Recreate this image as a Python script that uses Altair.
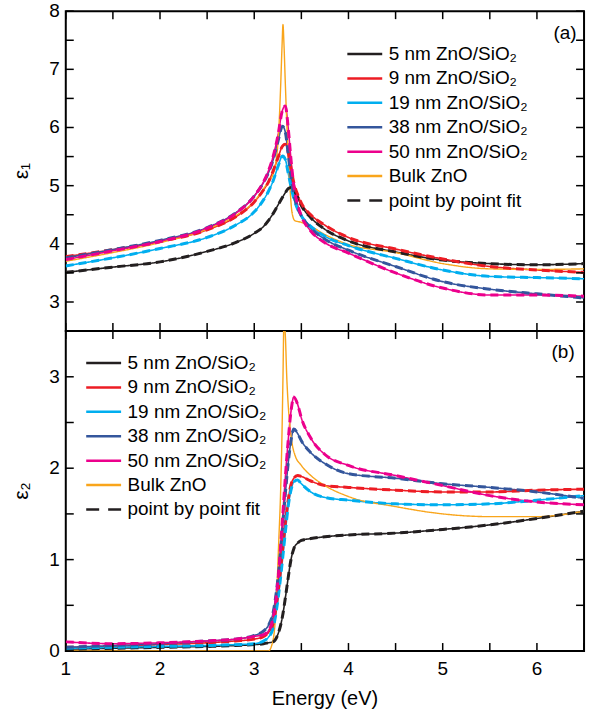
import altair as alt
import pandas as pd

FONT = "Liberation Sans"

# ---------------- data ----------------
energy = [1.0, 1.5, 2.0, 2.5, 2.8, 3.0, 3.1, 3.15, 3.2, 3.25, 3.3, 3.33, 3.36,
          3.39, 3.42, 3.46, 3.5, 3.6, 3.75, 4.0, 4.5, 5.0, 5.5, 6.0, 6.5]
energy_bulk = [1.0, 1.5, 2.0, 2.5, 2.8, 3.0, 3.1, 3.15, 3.2, 3.23, 3.26, 3.28,
               3.295, 3.305, 3.315, 3.33, 3.345, 3.36, 3.38, 3.4, 3.43, 3.5,
               3.6, 3.75, 4.0, 4.5, 5.0, 5.5, 6.0, 6.5]

# epsilon_1
e1_5nm = [3.51, 3.60, 3.69, 3.87, 4.02, 4.18, 4.30, 4.40, 4.52, 4.66, 4.80, 4.88, 4.95,
          4.97, 4.92, 4.80, 4.66, 4.45, 4.25, 4.05, 3.86, 3.72, 3.66, 3.64, 3.66]
e1_9nm = [3.78, 3.90, 4.04, 4.24, 4.46, 4.72, 4.93, 5.06, 5.25, 5.47, 5.68, 5.71, 5.58,
          5.30, 5.05, 4.85, 4.70, 4.50, 4.32, 4.11, 3.91, 3.74, 3.61, 3.55, 3.51]
e1_19nm = [3.62, 3.76, 3.92, 4.11, 4.32, 4.55, 4.76, 4.90, 5.08, 5.32, 5.51, 5.45, 5.22,
           4.98, 4.78, 4.60, 4.48, 4.30, 4.13, 3.97, 3.75, 3.55, 3.44, 3.42, 3.40]
e1_38nm = [3.76, 3.90, 4.06, 4.28, 4.53, 4.82, 5.06, 5.22, 5.44, 5.75, 6.02, 5.92, 5.55,
           5.15, 4.85, 4.62, 4.48, 4.27, 4.08, 3.89, 3.61, 3.35, 3.22, 3.14, 3.07]
e1_50nm = [3.73, 3.88, 4.04, 4.27, 4.52, 4.82, 5.07, 5.25, 5.50, 5.85, 6.30, 6.37, 6.00,
           5.45, 5.00, 4.68, 4.48, 4.22, 4.02, 3.84, 3.50, 3.24, 3.12, 3.12, 3.10]
e1_bulk = [3.70, 3.85, 4.02, 4.25, 4.48, 4.73, 4.95, 5.07, 5.20, 5.40, 5.95, 6.70,
           7.40, 7.77, 7.45, 6.75, 6.10, 5.55, 4.95, 4.55, 4.40, 4.37,
           4.30, 4.16, 3.99, 3.85, 3.66, 3.57, 3.56, 3.57]

# epsilon_2
e2_5nm = [0.02, 0.03, 0.04, 0.05, 0.06, 0.07, 0.08, 0.09, 0.10, 0.18, 0.38, 0.58, 0.80,
          1.00, 1.12, 1.18, 1.21, 1.23, 1.25, 1.27, 1.29, 1.33, 1.38, 1.45, 1.53]
e2_9nm = [0.04, 0.05, 0.07, 0.09, 0.11, 0.13, 0.16, 0.20, 0.30, 0.62, 1.10, 1.40, 1.65,
          1.82, 1.89, 1.92, 1.91, 1.86, 1.81, 1.79, 1.76, 1.74, 1.74, 1.76, 1.77]
e2_19nm = [0.03, 0.04, 0.05, 0.06, 0.07, 0.08, 0.11, 0.15, 0.25, 0.55, 1.00, 1.30, 1.58,
           1.76, 1.85, 1.87, 1.83, 1.74, 1.68, 1.65, 1.61, 1.60, 1.61, 1.65, 1.70]
e2_38nm = [0.04, 0.06, 0.08, 0.11, 0.13, 0.17, 0.22, 0.28, 0.42, 0.78, 1.35, 1.72, 2.05,
           2.30, 2.43, 2.38, 2.30, 2.17, 2.05, 1.94, 1.89, 1.83, 1.79, 1.74, 1.67]
e2_50nm = [0.10, 0.08, 0.09, 0.11, 0.13, 0.16, 0.18, 0.22, 0.36, 0.75, 1.45, 1.90, 2.30,
           2.62, 2.78, 2.70, 2.55, 2.33, 2.15, 2.03, 1.92, 1.81, 1.70, 1.63, 1.60]
e2_bulk = [0.0, 0.0, 0.0, 0.0, 0.0, 0.0, 0.0, 0.0, 0.12, 0.45, 1.20, 1.75,
           2.40, 3.00, 3.60, 3.45, 3.00, 2.70, 2.45, 2.28, 2.15, 2.03,
           1.92, 1.81, 1.69, 1.58, 1.50, 1.47, 1.47, 1.53]

labels = ["5 nm ZnO/SiO\u2082", "9 nm ZnO/SiO\u2082", "19 nm ZnO/SiO\u2082",
          "38 nm ZnO/SiO\u2082", "50 nm ZnO/SiO\u2082", "Bulk ZnO", "point by point fit"]
colors = ["#231f20", "#ed1c24", "#00aeef", "#34569c", "#ec008c", "#f9a51b", "#231f20"]
dashes = [[1, 0], [1, 0], [1, 0], [1, 0], [1, 0], [1, 0], [13, 9]]

# ticks (every 0.5) and tick labels (integers)
x_ticks = [1.0, 1.5, 2.0, 2.5, 3.0, 3.5, 4.0, 4.5, 5.0, 5.5, 6.0, 6.5]
y1_ticks = [2.5, 3.0, 3.5, 4.0, 4.5, 5.0, 5.5, 6.0, 6.5, 7.0, 7.5, 8.0]
y2_ticks = [0.0, 0.5, 1.0, 1.5, 2.0, 2.5, 3.0, 3.5]
x_labels = [1, 2, 3, 4, 5, 6]
y1_labels = [3, 4, 5, 6, 7, 8]
y2_labels = [0, 1, 2, 3]
x_title = "Energy (eV)"

XDOM = [1, 6.5]
W, H, TL = 520, 321, 8   # panel size and tick length (px)


def frames(film_lists, bulk_list):
    film, bulk = [], []
    for lab, vals in zip(labels[:5], film_lists):
        for e, v in zip(energy, vals):
            film.append({"E": e, "eps": v, "series": lab})
    for e, v in zip(energy_bulk, bulk_list):
        bulk.append({"E": e, "eps": v, "series": labels[5]})
    return pd.DataFrame(film), pd.DataFrame(bulk)


def tick_segments(ydom, yticks):
    """Short inward segments at every tick value on all four frame sides."""
    dy = TL * (ydom[1] - ydom[0]) / H
    dx = TL * (XDOM[1] - XDOM[0]) / W
    rows, k = [], 0
    for t in x_ticks:
        for a, b in [(ydom[1], ydom[1] - dy), (ydom[0], ydom[0] + dy)]:
            rows += [{"E": t, "eps": a, "k": k}, {"E": t, "eps": b, "k": k}]
            k += 1
    for t in yticks:
        for a, b in [(XDOM[0], XDOM[0] + dx), (XDOM[1], XDOM[1] - dx)]:
            rows += [{"E": a, "eps": t, "k": k}, {"E": b, "eps": t, "k": k}]
            k += 1
    return pd.DataFrame(rows)


def text_mark(**kw):
    base = dict(font=FONT, fontSize=19, color="black")
    base.update(kw)
    return base


def panel(film_lists, bulk_list, ydomain, yticks, ylabels, ytitle, tag, lx, ly,
          tag_xy, bottom):
    df_film, df_bulk = frames(film_lists, bulk_list)
    xscale = alt.Scale(domain=XDOM, nice=False, zero=False)
    yscale = alt.Scale(domain=ydomain, nice=False, zero=False)
    cscale = alt.Scale(domain=labels, range=colors)
    dscale = alt.Scale(domain=labels, range=dashes)
    leg = alt.Legend(title=None, orient="none", legendX=lx, legendY=ly,
                     symbolType="stroke", symbolSize=1225, symbolStrokeWidth=2.5,
                     clipHeight=18, labelFont=FONT, labelFontSize=19,
                     labelColor="black", labelOffset=5, rowPadding=5.5, padding=0,
                     labelLimit=400)

    def X(field="E"):
        return alt.X(f"{field}:Q", scale=xscale, axis=None)

    def Y(field="eps"):
        return alt.Y(f"{field}:Q", scale=yscale, axis=None)

    film = alt.Chart(df_film).mark_line(clip=True, interpolate="monotone",
                                        strokeWidth=1.6).encode(
        x=X(), y=Y(),
        color=alt.Color("series:N", scale=cscale, legend=leg),
        strokeDash=alt.StrokeDash("series:N", scale=dscale, legend=leg),
    )
    bulk = alt.Chart(df_bulk).mark_line(clip=True, interpolate="monotone",
                                        strokeWidth=1.4).encode(
        x=X(), y=Y(),
        color=alt.Color("series:N", scale=cscale, legend=leg),
        strokeDash=alt.StrokeDash("series:N", scale=dscale, legend=leg),
    )
    fit = alt.Chart(df_film).mark_line(clip=True, interpolate="monotone").encode(
        x=X(), y=Y(),
        color=alt.Color("series:N", scale=cscale, legend=leg),
        strokeDash=alt.value([8, 5]),
        strokeWidth=alt.value(3),
    )

    ticks = alt.Chart(tick_segments(ydomain, yticks)).mark_line(
        color="black", strokeWidth=1.5).encode(x=X(), y=Y(), detail="k:N")

    # tick labels and axis titles
    ylab = alt.Chart(pd.DataFrame({"ly": ylabels})).mark_text(
        **text_mark(align="right", baseline="middle")
    ).encode(y=Y("ly"), x=alt.value(-6), text=alt.Text("ly:Q", format="d"))
    ytit = alt.Chart(pd.DataFrame({"t": [ytitle]})).mark_text(
        **text_mark(fontSize=21, angle=270, align="center", baseline="middle")
    ).encode(text="t:N", x=alt.value(-44), y=alt.value(H / 2))

    tag_layer = alt.Chart(pd.DataFrame({"t": [tag]})).mark_text(
        **text_mark(align="center", baseline="middle")
    ).encode(text="t:N", x=alt.value(tag_xy[0]), y=alt.value(tag_xy[1]))

    layers = [film, bulk, fit, ticks, ylab, ytit, tag_layer]
    if bottom:
        xlab = alt.Chart(pd.DataFrame({"lx": x_labels})).mark_text(
            **text_mark(align="center", baseline="top")
        ).encode(x=X("lx"), y=alt.value(H + 9), text=alt.Text("lx:Q", format="d"))
        xtit = alt.Chart(pd.DataFrame({"t": [x_title]})).mark_text(
            **text_mark(fontSize=20, align="center", baseline="top")
        ).encode(text="t:N", x=alt.value(W / 2), y=alt.value(H + 38))
        layers += [xlab, xtit]

    return alt.layer(*layers).properties(width=W, height=H)


top = panel([e1_5nm, e1_9nm, e1_19nm, e1_38nm, e1_50nm], e1_bulk,
            [2.5, 8], y1_ticks, y1_labels, "\u03b5\u2081", "(a)", 281, 34,
            (501, 22), False)
bottom = panel([e2_5nm, e2_9nm, e2_19nm, e2_38nm, e2_50nm], e2_bulk,
               [0, 3.5], y2_ticks, y2_labels, "\u03b5\u2082", "(b)", 19, 23,
               (499, 21), True)

chart = alt.vconcat(top, bottom, spacing=0, bounds="flush").resolve_scale(
    color="independent", strokeDash="independent"
).properties(
    padding={"left": 10, "top": 0, "right": 10, "bottom": 4},
    background="white",
).configure_view(
    stroke="black", strokeWidth=2
)

chart.save("out.html", embed_options={"renderer": "svg", "actions": False})
